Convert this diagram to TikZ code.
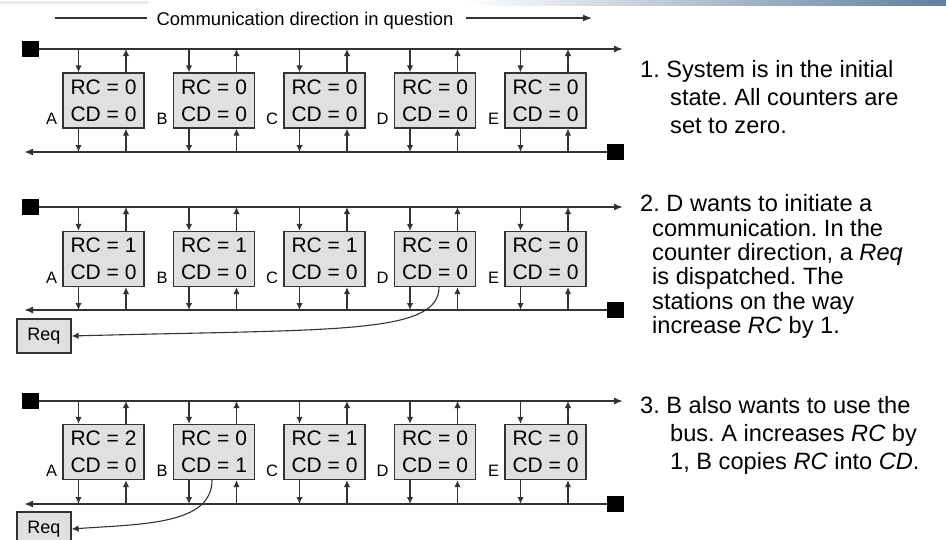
\documentclass[tikz,border=0pt]{standalone}
\usepackage{fontspec}
\setmainfont{Liberation Sans}
\usetikzlibrary{arrows.meta}
\frenchspacing
\definecolor{headblue}{RGB}{95,128,160}
\tikzset{
  bus/.style={line width=1.5pt, draw=black!80},
  busend/.style={-{Latex[length=9pt,width=7pt]}},
  tick/.style={line width=1.3pt, draw=black!80, -{Latex[length=7pt,width=6.5pt]}},
  station/.style={draw=black!80, fill=black!12, line width=1.3pt, minimum width=81pt, minimum height=55pt, inner sep=0pt, align=center, font=\fontsize{21}{27}\selectfont},
  stationlabel/.style={inner sep=0pt, font=\fontsize{16.5}{16.5}\selectfont},
  term/.style={fill=black, minimum width=17pt, minimum height=16pt, inner sep=0pt},
  reqbox/.style={draw=black!80, fill=black!12, line width=1.3pt, minimum width=54pt, minimum height=34pt, inner sep=0pt, font=\fontsize{18}{18}\selectfont},
  dirtext/.style={inner sep=0pt, font=\fontsize{18.4}{18.4}\selectfont},
  steptext/.style={inner sep=0pt, align=left},
}

\begin{document}
\begin{tikzpicture}[x=1pt,y=-1pt]
\useasboundingbox (0,0) rectangle (946,539);
% slide header remains
\fill[black!8] (0,1) rectangle (148,4);
\shade[left color=white, right color=headblue] (464,0) rectangle (946,5);

% communication direction
\node[dirtext, anchor=base] (dir) at (305,25) {Communication direction in question};
\coordinate (dirstart) at (55,18);
\coordinate (dirend) at (592,18);
\draw[bus, line width=1.2pt] (dirstart) -- ([xshift=-10pt]dir.west |- dirstart);
\draw[bus, line width=1.2pt, busend] ([xshift=12pt]dir.east |- dirend) -- (dirend);

% buses with terminators
\foreach \p/\t/\b in {1/49/152, 2/207/310, 3/401/504} {
  \node[term] (s\p) at (30.5,\t) {};
  \coordinate (e\p) at (623,\t);
  \node[term] (r\p) at (615.5,\b) {};
  \coordinate (w\p) at (24,\b);
  \draw[bus, busend] (s\p) -- (e\p);
  \draw[bus, busend] (r\p) -- (w\p);
}

% stations
\node[station] (A1) at (103.5,100.5) {RC = 0\\CD = 0};
\node[station] (B1) at (214,100.5) {RC = 0\\CD = 0};
\node[station] (C1) at (324.5,100.5) {RC = 0\\CD = 0};
\node[station] (D1) at (435,100.5) {RC = 0\\CD = 0};
\node[station] (E1) at (545.5,100.5) {RC = 0\\CD = 0};

\node[station] (A2) at (103.5,259) {RC = 1\\CD = 0};
\node[station] (B2) at (214,259) {RC = 1\\CD = 0};
\node[station] (C2) at (324.5,259) {RC = 1\\CD = 0};
\node[station] (D2) at (435,259) {RC = 0\\CD = 0};
\node[station] (E2) at (545.5,259) {RC = 0\\CD = 0};

\node[station] (A3) at (103.5,452) {RC = 2\\CD = 0};
\node[station] (B3) at (214,452) {RC = 0\\CD = 1};
\node[station] (C3) at (324.5,452) {RC = 1\\CD = 0};
\node[station] (D3) at (435,452) {RC = 0\\CD = 0};
\node[station] (E3) at (545.5,452) {RC = 0\\CD = 0};

% letters and taps to the buses
\foreach \p in {1,2,3} {
  \foreach \n in {A,B,C,D,E} {
    \node[stationlabel, anchor=base east] (lb\n\p) at ([xshift=-5pt,yshift=4pt]\n\p.south west) {\n};
    \draw[tick] ([xshift=-25pt]\n\p.north |- s\p) -- ([xshift=-25pt]\n\p.north);
    \draw[tick] ([xshift=22.5pt]\n\p.north) -- ([xshift=22.5pt]\n\p.north |- s\p);
    \draw[tick] ([xshift=-25pt]\n\p.south) -- ([xshift=-25pt]\n\p.south |- r\p);
    \draw[tick] ([xshift=22.5pt]\n\p.south |- r\p) -- ([xshift=22.5pt]\n\p.south);
  }
}

% requests
\node[reqbox] (q2) at (44,336) {Req};
\node[reqbox] (q3) at (44,529) {Req};
\draw[tick, line width=1.1pt] ([xshift=4pt]D2.south) .. controls +(0,48) and +(260,-7) .. (q2.east);
\draw[tick, line width=1.1pt] ([xshift=-2pt]B3.south) .. controls +(0,45) and +(69,-5) .. (q3.east);

% steps
\node[steptext, anchor=north west, font=\fontsize{23.6}{28}\selectfont] (step1) at (640,60)
  {1. System is in the initial\\\hspace*{30pt}state. All counters are\\\hspace*{30pt}set to zero.};
\node[steptext, anchor=north west, font=\fontsize{23.6}{24.3}\selectfont] (step2) at (640,194.5)
  {2. D wants to initiate a\\\hspace*{12pt}communication. In the\\\hspace*{12pt}counter direction, a \textit{Req}\\\hspace*{12pt}is dispatched. The\\\hspace*{12pt}stations on the way\\\hspace*{12pt}increase \textit{RC} by 1.};
\node[steptext, anchor=north west, font=\fontsize{23.6}{28}\selectfont] (step3) at (640,396)
  {3. B also wants to use the\\\hspace*{30pt}bus. A increases \textit{RC} by\\\hspace*{30pt}1, B copies \textit{RC} into \textit{CD}.};
\end{tikzpicture}
\end{document}
